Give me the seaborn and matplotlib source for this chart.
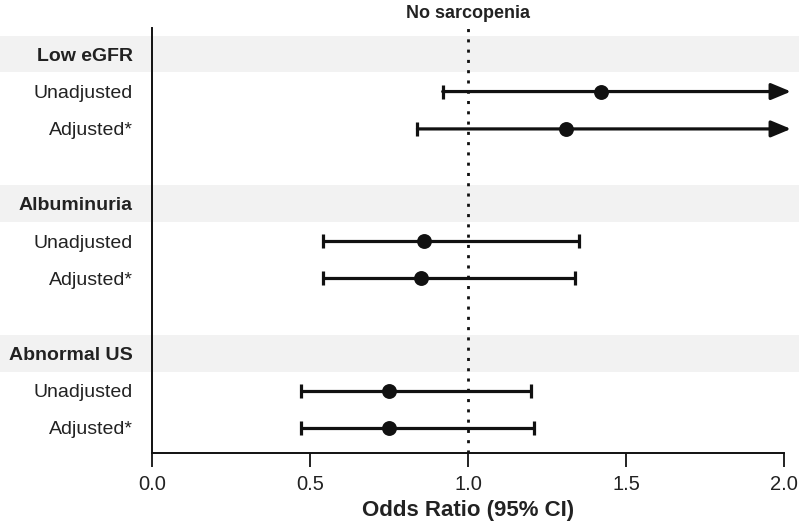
import numpy as np
import pandas as pd
import matplotlib
matplotlib.use("Agg")
import matplotlib.pyplot as plt
import seaborn as sns

sns.set_style("ticks")
plt.rcParams['font.family'] = ['Liberation Sans', 'DejaVu Sans']

# Dados
grupos = ['Low eGFR', 'Albuminuria', 'Abnormal US']
modelos = ['Unadjusted', 'Adjusted*']
odds = [1.42, 1.31, 0.86, 0.85, 0.75, 0.75]
inferior = [0.92, 0.84, 0.54, 0.54, 0.47, 0.47]
superior = [2.20, 2.10, 1.35, 1.34, 1.20, 1.21]
x_ticks = [0.0, 0.5, 1.0, 1.5, 2.0]
referencia = 1.0

# Monta o DataFrame (linha de cabeçalho + 2 modelos + linha vazia por grupo)
linhas = []
k = 0
for g, grupo in enumerate(grupos):
    for m, modelo in enumerate(modelos):
        linhas.append({'grupo': grupo, 'modelo': modelo, 'pos': 4 * g + 1 + m,
                       'odds': odds[k], 'lower': inferior[k], 'upper': superior[k]})
        k += 1
df = pd.DataFrame(linhas)

xmax = x_ticks[-1]
cor = '#111111'

fig = plt.figure(figsize=(7.99, 5.29), dpi=100)
ax = fig.add_axes([152 / 799, 1 - 453 / 529, 632 / 799, 425 / 529])

# Faixas cinzas dos cabeçalhos
for g in range(len(grupos)):
    ax.axhspan(4 * g - 0.49, 4 * g + 0.49, xmin=-152 / 632, xmax=(799 - 152) / 632,
               color='#f2f2f2', zorder=0, clip_on=False, lw=0)

# Linha de referência
ax.axvline(referencia, color=cor, lw=2.0, linestyle=(0, (1.1, 2.6)), zorder=1)

# Intervalos de confiança
for _, r in df.iterrows():
    if r['upper'] > xmax:
        ax.annotate('', xy=(xmax + 0.022, r['pos']), xytext=(r['lower'], r['pos']),
                    arrowprops=dict(arrowstyle='-|>,head_length=0.6,head_width=0.25',
                                    color=cor, lw=2.3, shrinkA=0, shrinkB=0,
                                    mutation_scale=20),
                    annotation_clip=False, zorder=2)
        caps = [r['lower']]
    else:
        ax.hlines(r['pos'], r['lower'], r['upper'], color=cor, lw=2.3, zorder=2)
        caps = [r['lower'], r['upper']]
    ax.plot(caps, [r['pos']] * len(caps), linestyle='none', marker='|',
            markersize=10, markeredgewidth=2.3, color=cor, zorder=2)

sns.scatterplot(data=df, x='odds', y='pos', color=cor, s=115, edgecolor=cor,
                linewidth=0, zorder=3, ax=ax, legend=False)

# Eixos
ax.set_xlim(0, xmax)
ax.set_ylim(10.67, -0.70)
ax.set_xticks(x_ticks)
ax.set_xticklabels([f'{t:.1f}' for t in x_ticks], fontsize=14.5, color='#222222')
ax.tick_params(axis='x', length=10, width=1.3, pad=6, color=cor)

rotulos_pos = []
rotulos = []
for g, grupo in enumerate(grupos):
    rotulos_pos += [4 * g, 4 * g + 1, 4 * g + 2]
    rotulos += [grupo] + modelos
ax.set_yticks(rotulos_pos)
ax.set_yticklabels(rotulos, fontsize=14, color='#222222')
for i, lab in enumerate(ax.get_yticklabels()):
    if i % 3 == 0:
        lab.set_fontweight('bold')
ax.tick_params(axis='y', length=0, pad=14)

ax.set_xlabel('Odds Ratio (95% CI)', fontsize=16, fontweight='bold', color='#222222', labelpad=4)
ax.set_ylabel('')
ax.set_facecolor('none')
sns.despine(ax=ax)
for s in ['left', 'bottom']:
    ax.spines[s].set_linewidth(1.4)
    ax.spines[s].set_color(cor)
    ax.spines[s].set_zorder(4)

ax.text(referencia, -0.86, 'No sarcopenia', ha='center', va='bottom', fontsize=13,
        fontweight='bold', color='#222222')

fig.savefig('out.png', dpi=100)
